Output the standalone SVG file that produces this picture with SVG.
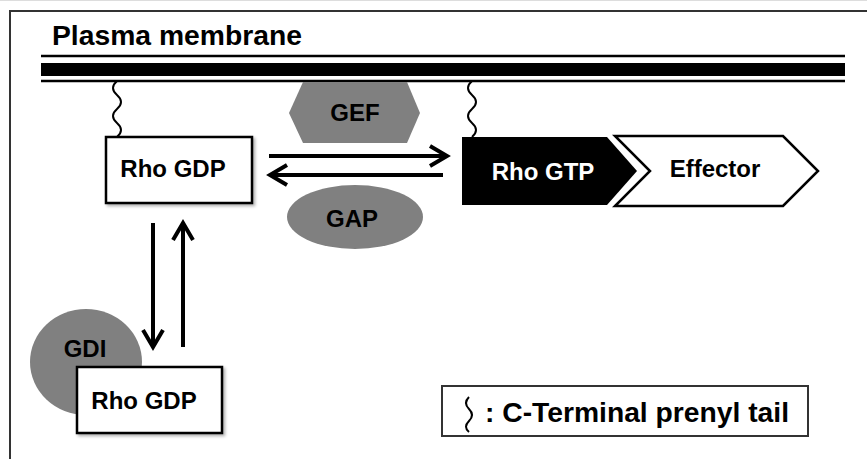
<svg xmlns="http://www.w3.org/2000/svg" width="867" height="459" viewBox="0 0 867 459">
  <defs>
    <style>
      .lbl { font-family: "Liberation Sans", Arial, sans-serif; font-weight: bold; font-size: 24px; fill: #000; text-anchor: middle; }
      .box { fill: #fff; stroke: #000; stroke-width: 2.5; }
      .grey { fill: #808080; }
      .tail { fill: none; stroke: #000; stroke-width: 2; }
      .conn { fill: none; stroke: #000; stroke-width: 4; }
      .frame { stroke: #333; stroke-width: 2; fill: none; }
    </style>
    <filter id="sh" x="-10%" y="-10%" width="130%" height="140%">
      <feDropShadow dx="2" dy="2" stdDeviation="1.5" flood-color="#000" flood-opacity="0.3"/>
    </filter>
    <marker id="ah" markerUnits="userSpaceOnUse" markerWidth="26" markerHeight="26" viewBox="0 0 26 26" refX="21" refY="13" orient="auto">
      <path d="M4,3 L21,13 L4,23" fill="none" stroke="#000" stroke-width="4"/>
    </marker>
  </defs>

  <rect width="867" height="459" fill="#fff"/>
  <line x1="0" y1="0.5" x2="867" y2="0.5" stroke="#ddd" stroke-width="1"/>

  <g id="frame">
    <path class="frame" d="M10,459 V11 H867"/>
  </g>

  <g id="membrane">
    <text x="52" y="45" font-family="Liberation Sans, Arial, sans-serif" font-weight="bold" font-size="27" textLength="250" lengthAdjust="spacingAndGlyphs">Plasma membrane</text>
    <line x1="41" y1="56" x2="845" y2="56" stroke="#000" stroke-width="2.5"/>
    <rect x="41" y="63" width="804" height="13" fill="#000"/>
    <line x1="41" y1="81" x2="845" y2="81" stroke="#000" stroke-width="2.5"/>
  </g>

  <g id="tails">
    <path class="tail" d="M117,81 q-8,7 0,14 t0,14 t0,14 t0,14"/>
    <path class="tail" d="M472,81 q-8,7 0,14 t0,14 t0,14 t0,14"/>
  </g>

  <g id="gef">
    <polygon class="grey" points="303,82 407,82 420,113 407,143 303,143 289,113"/>
    <text class="lbl" x="355" y="121">GEF</text>
  </g>

  <g id="gap">
    <ellipse class="grey" cx="355" cy="217" rx="68" ry="32"/>
    <text class="lbl" x="352" y="227">GAP</text>
  </g>

  <g id="rho-gdp-membrane">
    <rect class="box" x="106" y="137" width="146" height="66" filter="url(#sh)"/>
    <text class="lbl" x="173" y="177">Rho GDP</text>
  </g>

  <g id="rho-gtp">
    <polygon points="462,137 607,137 637,171 607,205 462,205" fill="#000"/>
    <text class="lbl" x="543" y="180" style="fill:#fff">Rho GTP</text>
  </g>

  <g id="effector">
    <polygon points="615,136 783,136 818,171 783,206 615,206 650,171" fill="#fff" stroke="#000" stroke-width="2.5"/>
    <text class="lbl" x="715" y="177">Effector</text>
  </g>

  <g id="gdi">
    <ellipse class="grey" cx="86" cy="362" rx="56" ry="53"/>
    <text class="lbl" x="85" y="357">GDI</text>
  </g>

  <g id="rho-gdp-cytosol">
    <rect class="box" x="77" y="367" width="145" height="66" filter="url(#sh)"/>
    <text class="lbl" x="144" y="409">Rho GDP</text>
  </g>

  <g id="connectors">
    <line class="conn" x1="269" y1="156" x2="447" y2="156" marker-end="url(#ah)"/>
    <line class="conn" x1="443" y1="175" x2="270" y2="175" marker-end="url(#ah)"/>
    <line class="conn" x1="153" y1="223" x2="153" y2="347" marker-end="url(#ah)"/>
    <line class="conn" x1="183" y1="347" x2="183" y2="223" marker-end="url(#ah)"/>
  </g>

  <g id="legend">
    <rect x="442" y="386" width="366" height="50" fill="#fff" stroke="#333" stroke-width="2"/>
    <path class="tail" d="M469,397 q-6,6 0,12 t0,12 t0,11" stroke-width="1.5"/>
    <text x="485" y="422" font-family="Liberation Sans, Arial, sans-serif" font-weight="bold" font-size="28" textLength="304" lengthAdjust="spacingAndGlyphs">: C-Terminal prenyl tail</text>
  </g>
</svg>
